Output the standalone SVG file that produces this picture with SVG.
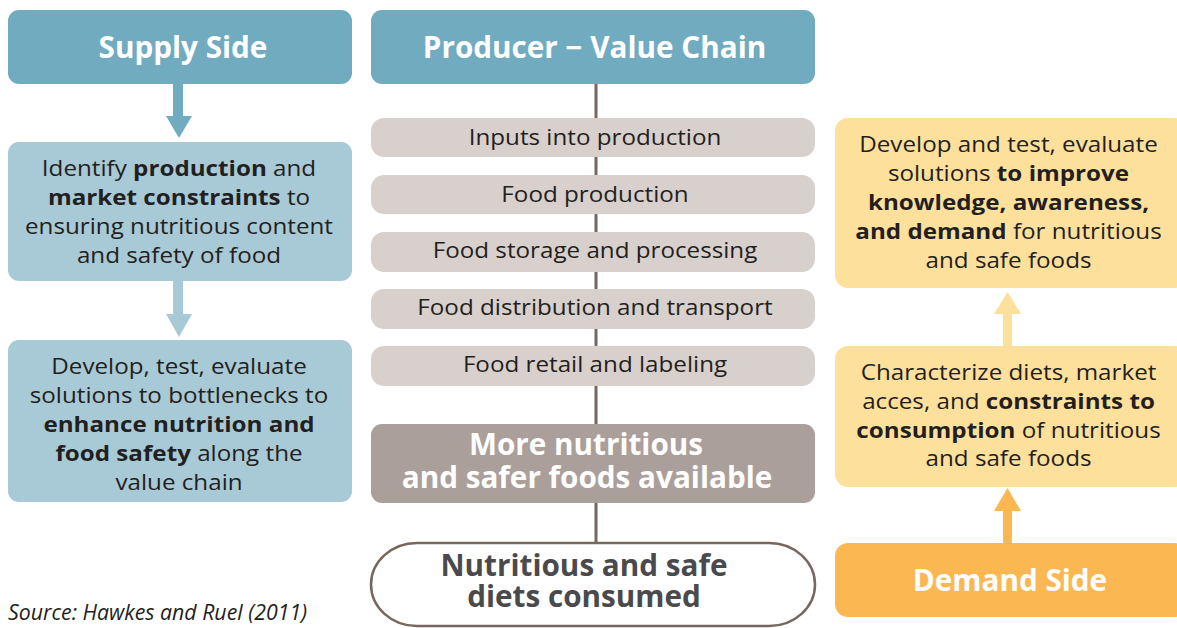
<svg xmlns="http://www.w3.org/2000/svg" width="1177" height="628" viewBox="0 0 1177 628">
<style>
text{font-family:"Open Sans","Noto Sans","DejaVu Sans",sans-serif;text-anchor:middle}
.h{font-size:29.7px;font-weight:700;fill:#ffffff}
.b{font-size:22.2px;fill:#231f20}
.bd{font-weight:700}
.step{fill:#d8d0cd}
.chain{stroke:#76675f;stroke-width:3;fill:none}
</style>
<rect width="1177" height="628" fill="#ffffff"/>
<g id="connectors">
<line class="chain" x1="596" y1="84" x2="596" y2="543"/>
<g id="arrow-supply-1" fill="#71abbf">
<rect x="173" y="84" width="10" height="33"/>
<polygon points="166,116 192,116 179,138"/>
</g>
<g id="arrow-supply-2" fill="#a8c9d6">
<rect x="173" y="281" width="10" height="34"/>
<polygon points="166,314 192,314 179,337"/>
</g>
<g id="arrow-demand-1" fill="#fee09d">
<rect x="1003" y="313" width="9" height="33"/>
<polygon points="994,314 1021,314 1007.5,292"/>
</g>
<g id="arrow-demand-2" fill="#fbb852">
<rect x="1003" y="510" width="9" height="33"/>
<polygon points="994,511 1021,511 1007.5,488"/>
</g>
</g>
<g id="supply-side">
<rect x="8" y="10" width="344" height="74" rx="11" fill="#71abbf"/>
<text class="h" x="183" y="58">Supply Side</text>
</g>
<g id="identify">
<rect x="8" y="142" width="344" height="139" rx="11" fill="#a8c9d6"/>
<g transform="translate(179 0) scale(1.09 1)">
<text class="b" x="0" y="176">Identify <tspan class="bd">production</tspan> and</text>
<text class="b" x="0" y="205"><tspan class="bd">market constraints</tspan> to</text>
<text class="b" x="0" y="234">ensuring nutritious content</text>
<text class="b" x="0" y="263">and safety of food</text>
</g>
</g>
<g id="develop-supply">
<rect x="8" y="340" width="344" height="162" rx="11" fill="#a8c9d6"/>
<g transform="translate(179 0) scale(1.09 1)">
<text class="b" x="0" y="374">Develop, test, evaluate</text>
<text class="b" x="0" y="403">solutions to bottlenecks to</text>
<text class="b" x="0" y="432"><tspan class="bd">enhance nutrition and</tspan></text>
<text class="b" x="0" y="461"><tspan class="bd">food safety</tspan> along the</text>
<text class="b" x="0" y="490">value chain</text>
</g>
</g>
<g id="source">
<text x="8" y="620" style="text-anchor:start;font-size:21.3px;font-style:italic;fill:#231f20">Source: Hawkes and Ruel (2011)</text>
</g>
<g id="producer">
<rect x="371" y="10" width="444" height="74" rx="11" fill="#71abbf"/>
<text class="h" x="594.5" y="58">Producer − Value Chain</text>
</g>
<g id="inputs">
<rect class="step" x="371" y="118" width="444" height="39" rx="13"/>
<text class="b" transform="translate(595 0) scale(1.09 1)" x="0" y="145">Inputs into production</text>
</g>
<g id="production">
<rect class="step" x="371" y="175" width="444" height="39" rx="13"/>
<text class="b" transform="translate(595 0) scale(1.09 1)" x="0" y="202">Food production</text>
</g>
<g id="storage">
<rect class="step" x="371" y="232" width="444" height="40" rx="13"/>
<text class="b" transform="translate(595 0) scale(1.09 1)" x="0" y="258">Food storage and processing</text>
</g>
<g id="distribution">
<rect class="step" x="371" y="289" width="444" height="40" rx="13"/>
<text class="b" transform="translate(595 0) scale(1.09 1)" x="0" y="315">Food distribution and transport</text>
</g>
<g id="retail">
<rect class="step" x="371" y="346" width="444" height="40" rx="13"/>
<text class="b" transform="translate(595 0) scale(1.09 1)" x="0" y="372">Food retail and labeling</text>
</g>
<g id="more-nutritious">
<rect x="371" y="424" width="444" height="79" rx="11" fill="#ab9f9b"/>
<text class="h" x="586" y="455">More nutritious</text>
<text class="h" x="587" y="488">and safer foods available</text>
</g>
<g id="diets-consumed">
<rect x="371" y="543" width="444" height="83" rx="46" ry="41.5" fill="#ffffff" stroke="#76675f" stroke-width="2.5"/>
<text class="h" x="584" y="576" style="fill:#4a4a4c">Nutritious and safe</text>
<text class="h" x="584" y="607" style="fill:#4a4a4c">diets consumed</text>
</g>
<g id="develop-demand">
<rect x="835" y="118" width="352" height="170" rx="13" fill="#fee09d"/>
<g transform="translate(1008.5 0) scale(1.09 1)">
<text class="b" x="0" y="152">Develop and test, evaluate</text>
<text class="b" x="0" y="181">solutions <tspan class="bd">to improve</tspan></text>
<text class="b" x="0" y="210"><tspan class="bd">knowledge, awareness,</tspan></text>
<text class="b" x="0" y="239"><tspan class="bd">and demand</tspan> for nutritious</text>
<text class="b" x="0" y="268">and safe foods</text>
</g>
</g>
<g id="characterize">
<rect x="835" y="346" width="352" height="141" rx="13" fill="#fee09d"/>
<g transform="translate(1008.5 0) scale(1.09 1)">
<text class="b" x="0" y="380">Characterize diets, market</text>
<text class="b" x="0" y="409">acces, and <tspan class="bd">constraints to</tspan></text>
<text class="b" x="0" y="438"><tspan class="bd">consumption</tspan> of nutritious</text>
<text class="b" x="0" y="466">and safe foods</text>
</g>
</g>
<g id="demand-side">
<rect x="835" y="543" width="352" height="74" rx="13" fill="#fbb852"/>
<text class="h" x="1010" y="591">Demand Side</text>
</g>
</svg>
